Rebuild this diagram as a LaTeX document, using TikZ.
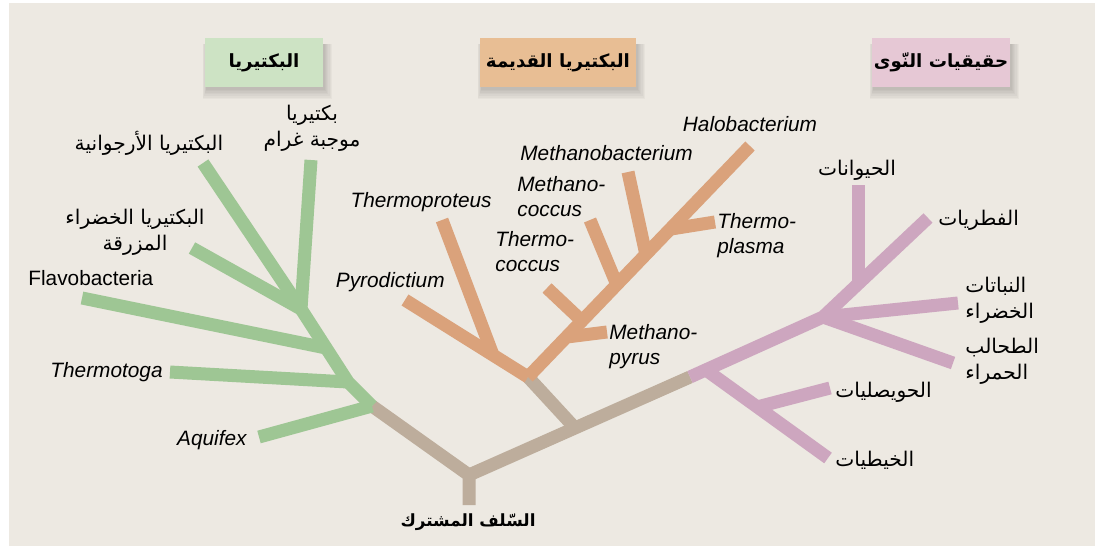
\documentclass[tikz,border=0pt]{standalone}
\usepackage{fontspec}
\setmainfont{Liberation Sans}
\newfontfamily\arabicfont[Script=Arabic]{DejaVu Sans}
\TeXXeTstate=1

\definecolor{paper}{RGB}{237,233,226}
\definecolor{trunkcol}{RGB}{189,173,156}
\definecolor{bactcol}{RGB}{158,198,148}
\definecolor{archcol}{RGB}{218,162,123}
\definecolor{eukcol}{RGB}{205,166,191}
\definecolor{bactbox}{RGB}{205,227,196}
\definecolor{archbox}{RGB}{232,190,148}
\definecolor{eukbox}{RGB}{230,200,213}

\newcommand{\artext}[1]{{\arabicfont\beginR #1\endR}}
% soft shadow under a header box, corners in px
\newcommand{\boxshadow}[4]{%
  \foreach \d in {1,...,7}
    \fill[black, opacity=0.028] ({#1-0.6*\d+2},{#2+6}) rectangle ({#3+1.1*\d+1},{#4+1.6*\d+1});}

\begin{document}
\begin{tikzpicture}[x=0.5pt,y=-0.5pt,
    branch/.style={line width=6.5pt},
    lbl/.style={inner sep=0pt, font=\fontsize{10.4}{12.5}\selectfont},
    sci/.style={lbl, font=\fontsize{10.4}{12.5}\selectfont\itshape},
    arlbl/.style={inner sep=0pt, font=\fontsize{10.1}{13}\selectfont},
    header/.style={minimum height=24.5pt, inner sep=0pt,
      font=\fontsize{9.1}{12}\selectfont\bfseries}]
  \useasboundingbox (0,0) rectangle (1095,546);
  \fill[paper] (9,3) rectangle (1095,546);

  % headers
  \boxshadow{205}{38}{323}{87}
  \boxshadow{480}{38}{636}{87}
  \boxshadow{872}{38}{1010}{87}
  \node[header, fill=bactbox, minimum width=59pt] (bact) at (264,62.5) {\artext{البكتيريا}};
  \node[header, fill=archbox, minimum width=78pt] (arch) at (558,62.5) {\artext{البكتيريا القديمة}};
  \node[header, fill=eukbox, minimum width=69pt] (euk) at (941,62.5) {\artext{حقيقيات النّوى}};

  % trunk
  \coordinate (root) at (469,505);
  \coordinate (r0) at (469,475);
  \coordinate (g0) at (372,406);
  \coordinate (a1) at (575,428);
  \coordinate (a0) at (528,377);
  \coordinate (e0) at (690,377);
  \draw[branch, trunkcol] (root) -- (r0) -- (g0);
  \draw[branch, trunkcol] (r0) -- (a1) -- (e0);
  \draw[branch, trunkcol] (a1) -- (a0);

  % bacteria
  \coordinate (g1) at (348,382);
  \coordinate (gf) at (326,348);
  \coordinate (g2) at (301,309);
  \coordinate (aquifex) at (259,437);
  \coordinate (thermotoga) at (170,372);
  \coordinate (flavo) at (82,298);
  \coordinate (cyano) at (192,248);
  \coordinate (purple) at (203,163);
  \coordinate (gram) at (311,160);
  \draw[branch, bactcol] (g0) -- (g1) -- (g2);
  \draw[branch, bactcol] (g0) -- (aquifex);
  \draw[branch, bactcol] (g1) -- (thermotoga);
  \draw[branch, bactcol] (gf) -- (flavo);
  \draw[branch, bactcol] (g2) -- (cyano);
  \draw[branch, bactcol] (g2) -- (purple);
  \draw[branch, bactcol] (g2) -- (gram);

  % archaea
  \coordinate (ap) at (493,355);
  \coordinate (pyro) at (405,300);
  \coordinate (tprot) at (442,220);
  \coordinate (halo) at (750,146);
  \coordinate (jpyr) at (567,337);
  \coordinate (mpyr) at (607,332);
  \coordinate (jtcoc) at (582,321);
  \coordinate (tcoc) at (547,288);
  \coordinate (jmcoc) at (617,285);
  \coordinate (mcoc) at (590,220);
  \coordinate (jmbac) at (646,255);
  \coordinate (mbac) at (628,172);
  \coordinate (jtpl) at (671,229);
  \coordinate (tpl) at (715,222);
  \draw[branch, archcol] (a0) -- (pyro);
  \draw[branch, archcol] (ap) -- (tprot);
  \draw[branch, archcol] (a0) -- (halo);
  \draw[branch, archcol] (jpyr) -- (mpyr);
  \draw[branch, archcol] (jtcoc) -- (tcoc);
  \draw[branch, archcol] (jmcoc) -- (mcoc);
  \draw[branch, archcol] (jmbac) -- (mbac);
  \draw[branch, archcol] (jtpl) -- (tpl);

  % eukarya
  \coordinate (p1) at (823,317);
  \coordinate (fungi) at (928,218);
  \coordinate (jani) at (858,284);
  \coordinate (animals) at (858,185);
  \coordinate (plants) at (958,303);
  \coordinate (algae) at (953,363);
  \coordinate (pl) at (706,370);
  \coordinate (diplo) at (828,458);
  \coordinate (jalv) at (757,407);
  \coordinate (alv) at (830,388);
  \draw[branch, eukcol] (e0) -- (p1) -- (fungi);
  \draw[branch, eukcol] (jani) -- (animals);
  \draw[branch, eukcol] (p1) -- (plants);
  \draw[branch, eukcol] (p1) -- (algae);
  \draw[branch, eukcol] (pl) -- (diplo);
  \draw[branch, eukcol] (jalv) -- (alv);

  % labels
  \node[arlbl, font=\fontsize{8.4}{12}\selectfont\bfseries] (lroot) at (468,522) {\artext{السّلف المشترك}};
  \node[arlbl, align=center] (lgram) at (312,128) {\artext{بكتيريا}\\\artext{موجبة غرام}};
  \node[arlbl] (lpurple) at (149,143) {\artext{البكتيريا الأرجوانية}};
  \node[arlbl, align=center] (lcyano) at (135,232) {\artext{البكتيريا الخضراء}\\\artext{المزرقة}};
  \node[lbl, anchor=west] (lflavo) at (28,278) {Flavobacteria};
  \node[sci, anchor=east] (lthermotoga) at (163,372) {Thermotoga};
  \node[sci, anchor=east] (laquifex) at (247,440) {Aquifex};
  \node[sci, anchor=east] (lpyro) at (445,282) {Pyrodictium};
  \node[sci, anchor=east] (ltprot) at (492,202) {Thermoproteus};
  \node[sci, anchor=west, align=left] (lmcoc) at (517,197) {Methano-\\coccus};
  \node[sci, anchor=west, align=left] (ltcoc) at (495,252) {Thermo-\\coccus};
  \node[sci, anchor=west] (lmbac) at (520,153) {Methanobacterium};
  \node[sci] (lhalo) at (750,124) {Halobacterium};
  \node[sci, anchor=west, align=left] (ltpl) at (717,236) {Thermo-\\plasma};
  \node[sci, anchor=west, align=left] (lmpyr) at (609,347) {Methano-\\pyrus};
  \node[arlbl] (lanimals) at (857,170) {\artext{الحيوانات}};
  \node[arlbl, anchor=west] (lfungi) at (938,220) {\artext{الفطريات}};
  \node[arlbl, anchor=west, align=left] (lplants) at (965,300) {\artext{النباتات}\\\artext{الخضراء}};
  \node[arlbl, anchor=west, align=left] (lalgae) at (965,361) {\artext{الطحالب}\\\artext{الحمراء}};
  \node[arlbl, anchor=west] (lalv) at (835,392) {\artext{الحويصليات}};
  \node[arlbl, anchor=west] (ldiplo) at (835,460) {\artext{الخيطيات}};
\end{tikzpicture}
\end{document}
